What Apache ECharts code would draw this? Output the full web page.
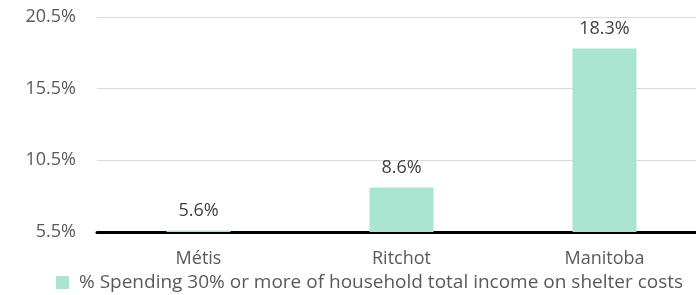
<!DOCTYPE html>
<head>
    <meta charset="utf-8">
    <title>ECharts</title>
    <style>html,body{margin:0;padding:0;background:#fff;}</style>
</head>
<body>
    <div id="main" style="width:696px;height:295px"></div>
    <script src="https://cdn.jsdelivr.net/npm/echarts@6/dist/echarts.min.js"></script>
    <script type="text/javascript">
        // categories and values
        var categories = ['Métis', 'Ritchot', 'Manitoba'];
        var shelterShare = [5.6, 8.6, 18.3];
        var seriesName = '% Spending 30% or more of household total income on shelter costs';
        var yTicks = [5.5, 10.5, 15.5, 20.5];

        var myChart = echarts.init(document.getElementById('main'));

        var font = '"Open Sans", sans-serif';
        var option = {
            animation: false,
            textStyle: { fontFamily: font },
            grid: { left: 97, right: -10, top: 17, bottom: 63, outerBoundsMode: 'none' },
            legend: {
                data: [seriesName],
                left: 51,
                top: 268,
                itemWidth: 13,
                itemHeight: 13,
                icon: 'rect',
                textStyle: { color: '#595959', fontSize: 19, fontFamily: font, padding: [0, 0, 0, 5] }
            },
            xAxis: {
                type: 'category',
                data: categories,
                axisLine: { lineStyle: { color: '#000', width: 3 } },
                axisTick: { show: false },
                axisLabel: { color: '#595959', fontSize: 18, margin: 18, fontFamily: font }
            },
            yAxis: {
                type: 'value',
                min: yTicks[0],
                max: yTicks[yTicks.length - 1],
                interval: 5,
                axisLine: { show: false },
                axisTick: { show: false },
                splitLine: { lineStyle: { color: '#D9D9D9', width: 1 } },
                axisLabel: {
                    color: '#595959', fontSize: 18, margin: 21, fontFamily: font,
                    formatter: function (v) { return v.toFixed(1) + '%'; }
                }
            },
            series: [{
                name: seriesName,
                type: 'bar',
                data: shelterShare,
                barWidth: 64,
                itemStyle: { color: '#A9E5D0' },
                label: {
                    show: true,
                    position: 'top',
                    distance: 11,
                    color: '#404040',
                    fontSize: 18,
                    fontFamily: font,
                    formatter: function (p) { return p.value.toFixed(1) + '%'; }
                }
            }]
        };

        myChart.setOption(option);
    </script>
</body>
